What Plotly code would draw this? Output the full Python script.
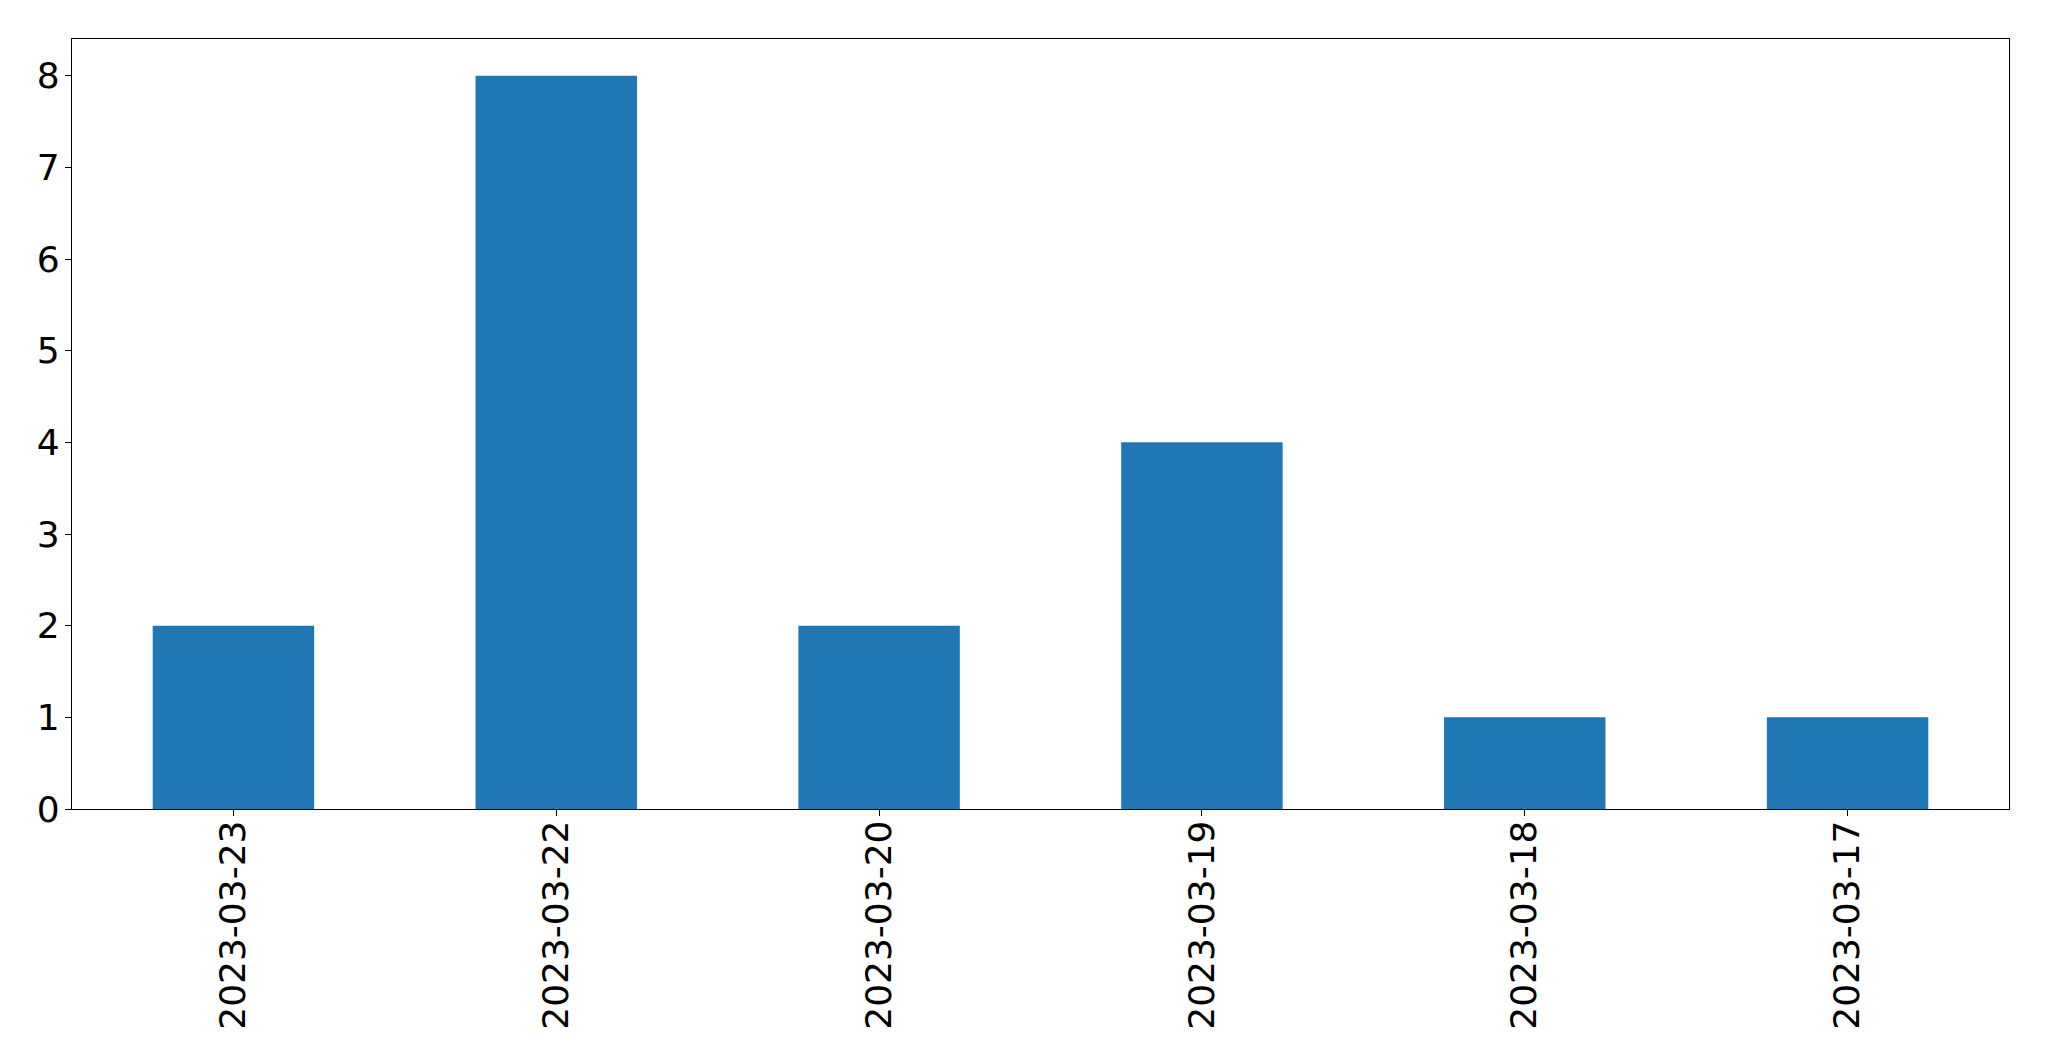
import plotly.graph_objects as go

dates = ["2023-03-23", "2023-03-22", "2023-03-20", "2023-03-19", "2023-03-18", "2023-03-17"]
counts = [2, 8, 2, 4, 1, 1]
y_ticks = [0, 1, 2, 3, 4, 5, 6, 7, 8]

fig = go.Figure(go.Bar(x=dates, y=counts, marker=dict(color="#1f77b4", line=dict(width=0)), width=0.5))

axis_common = dict(showline=True, linecolor="black", linewidth=1.3, mirror=True,
                   ticks="outside", ticklen=6, tickwidth=1.3, tickcolor="black",
                   showgrid=False, zeroline=False, automargin=False,
                   tickfont=dict(family="DejaVu Sans", size=36, color="black"))

# page body has an 8px margin, so figure coordinates are offset by 8px
fig.update_layout(
    width=2033, height=1045,
    margin=dict(l=64, r=32, t=31, b=244),
    paper_bgcolor="white", plot_bgcolor="white",
    showlegend=False, bargap=0.5,
    xaxis=dict(type="category", range=[-0.5, 5.5], tickangle=-90, ticklabelstandoff=-10, **axis_common),
    yaxis=dict(range=[0, 8.4], tickvals=y_ticks, ticklabelstandoff=-2, **axis_common),
)

fig.write_html("out.html")
